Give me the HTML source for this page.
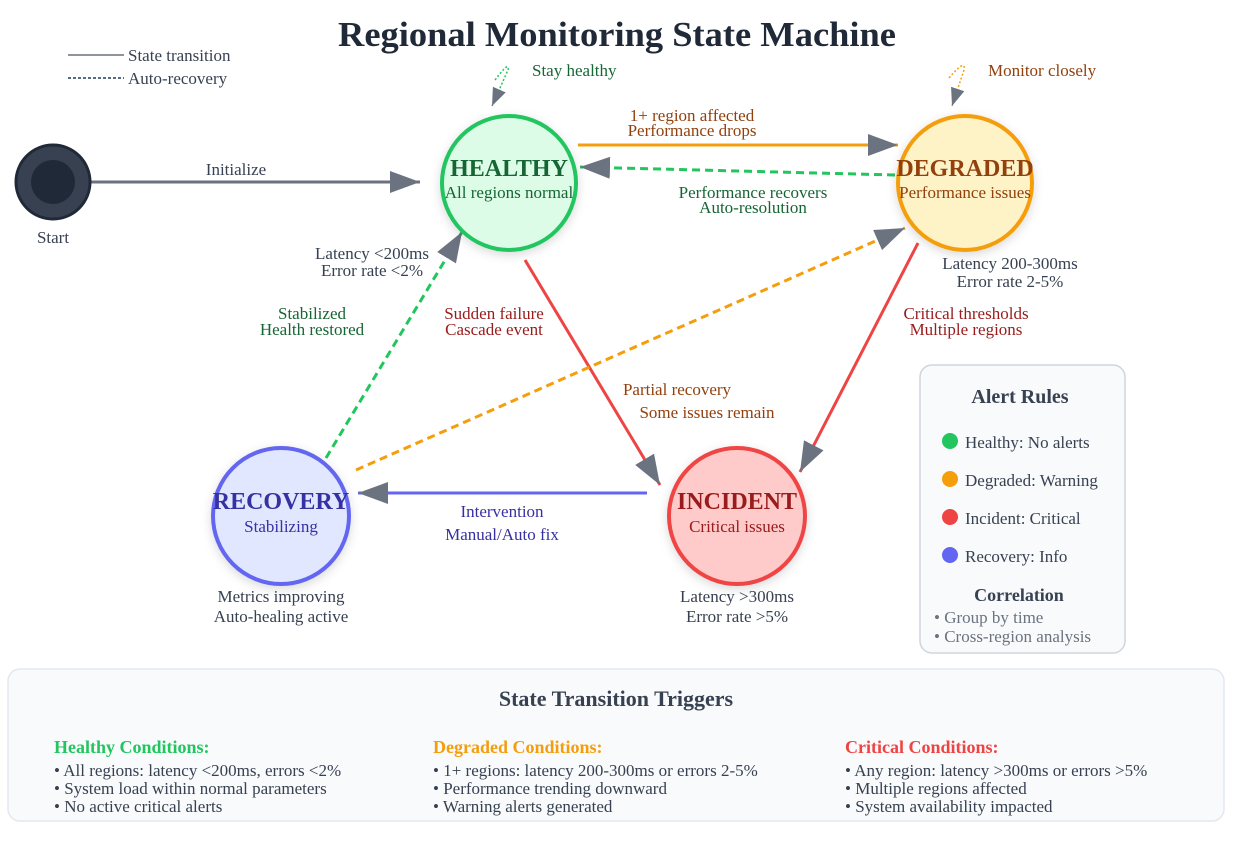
<!DOCTYPE html>
<html><head><meta charset="utf-8"><style>
body{margin:0;background:#fff;}
svg{display:block;font-family:"Liberation Serif","Times New Roman",serif;}
</style></head><body>
<svg width="1237" height="844" viewBox="0 0 1237 844" xmlns="http://www.w3.org/2000/svg">
<defs>
<marker id="a" markerUnits="userSpaceOnUse" markerWidth="32" markerHeight="24" refX="30" refY="11" orient="auto"><path d="M0,0 L30,11 L0,22 z" fill="#6b7280"/></marker>
<marker id="s" markerUnits="userSpaceOnUse" markerWidth="20" markerHeight="16" refX="18" refY="7" orient="auto"><path d="M0,0 L18,7 L0,14 z" fill="#6b7280"/></marker>
<filter id="sh" x="-30%" y="-30%" width="160%" height="160%"><feDropShadow dx="0" dy="3" stdDeviation="5" flood-color="#000" flood-opacity="0.15"/></filter>
</defs>
<rect width="1237" height="844" fill="#fff"/>
<text x="617" y="46" text-anchor="middle" font-size="35" font-weight="bold" fill="#1f2937" textLength="558" lengthAdjust="spacingAndGlyphs">Regional Monitoring State Machine</text>
<line x1="68" y1="55" x2="124" y2="55" stroke="#1f2937" stroke-width="1"/>
<text x="128" y="61" font-size="17" fill="#374151">State transition</text>
<line x1="68" y1="78" x2="124" y2="78" stroke="#1e3a5f" stroke-width="1.5" stroke-dasharray="3,2"/>
<text x="128" y="84" font-size="17" fill="#374151">Auto-recovery</text>

<g font-size="17">
<line x1="91" y1="182" x2="420" y2="182" stroke="#6b7280" stroke-width="3" marker-end="url(#a)"/>
<text x="236" y="175" text-anchor="middle" fill="#374151">Initialize</text>
<line x1="578" y1="145" x2="898" y2="145" stroke="#f59e0b" stroke-width="3" marker-end="url(#a)"/>
<text x="692" y="121" text-anchor="middle" fill="#92400e">1+ region affected</text>
<text x="692" y="136" text-anchor="middle" fill="#92400e">Performance drops</text>
<line x1="895" y1="175" x2="580" y2="167" stroke="#22c55e" stroke-width="3" stroke-dasharray="8,5" marker-end="url(#a)"/>
<text x="753" y="198" text-anchor="middle" fill="#166534">Performance recovers</text>
<text x="753" y="213" text-anchor="middle" fill="#166534">Auto-resolution</text>
<line x1="525" y1="260" x2="660" y2="485" stroke="#ef4444" stroke-width="3" marker-end="url(#a)"/>
<text x="494" y="319" text-anchor="middle" fill="#991b1b">Sudden failure</text>
<text x="494" y="335" text-anchor="middle" fill="#991b1b">Cascade event</text>
<line x1="918" y1="243" x2="800" y2="472" stroke="#ef4444" stroke-width="3" marker-end="url(#a)"/>
<text x="966" y="319" text-anchor="middle" fill="#991b1b">Critical thresholds</text>
<text x="966" y="335" text-anchor="middle" fill="#991b1b">Multiple regions</text>
<line x1="647" y1="493" x2="358" y2="493" stroke="#6366f1" stroke-width="3" marker-end="url(#a)"/>
<text x="502" y="517" text-anchor="middle" fill="#3730a3">Intervention</text>
<text x="502" y="540" text-anchor="middle" fill="#3730a3">Manual/Auto fix</text>
<line x1="326" y1="458" x2="462" y2="232" stroke="#22c55e" stroke-width="3" stroke-dasharray="8,5" marker-end="url(#a)"/>
<text x="312" y="319" text-anchor="middle" fill="#166534">Stabilized</text>
<text x="312" y="335" text-anchor="middle" fill="#166534">Health restored</text>
<text x="372" y="259" text-anchor="middle" fill="#374151">Latency &lt;200ms</text>
<text x="372" y="276" text-anchor="middle" fill="#374151">Error rate &lt;2%</text>
<line x1="356" y1="470" x2="905" y2="228" stroke="#f59e0b" stroke-width="3" stroke-dasharray="8,5" marker-end="url(#a)"/>
<text x="677" y="395" text-anchor="middle" fill="#92400e">Partial recovery</text>
<text x="707" y="418" text-anchor="middle" fill="#92400e">Some issues remain</text>
<path d="M495,80 Q510,60 508,70 L492,106" fill="none" stroke="#22c55e" stroke-width="1.5" stroke-dasharray="2,2" marker-end="url(#s)"/>
<text x="532" y="76" fill="#166534">Stay healthy</text>
<path d="M949,78 Q966,58 964,70 L952,106" fill="none" stroke="#f59e0b" stroke-width="1.5" stroke-dasharray="2,2" marker-end="url(#s)"/>
<text x="988" y="76" fill="#92400e">Monitor closely</text>

<circle cx="53" cy="182" r="37" fill="#374151" stroke="#1f2937" stroke-width="3"/>
<circle cx="53" cy="182" r="22" fill="#1f2937"/>
<text x="53" y="243" text-anchor="middle" fill="#374151">Start</text>

<circle cx="509" cy="183" r="67" fill="#dcfce7" stroke="#22c55e" stroke-width="4" filter="url(#sh)"/>
<text x="509" y="176" text-anchor="middle" font-size="24" font-weight="bold" fill="#166534">HEALTHY</text>
<text x="509" y="198" text-anchor="middle" fill="#166534">All regions normal</text>

<circle cx="965" cy="183" r="67" fill="#fef3c7" stroke="#f59e0b" stroke-width="4" filter="url(#sh)"/>
<text x="965" y="176" text-anchor="middle" font-size="24" font-weight="bold" fill="#92400e">DEGRADED</text>
<text x="965" y="198" text-anchor="middle" fill="#92400e">Performance issues</text>
<text x="1010" y="269" text-anchor="middle" fill="#374151">Latency 200-300ms</text>
<text x="1010" y="287" text-anchor="middle" fill="#374151">Error rate 2-5%</text>

<circle cx="281" cy="516" r="68" fill="#e0e7ff" stroke="#6366f1" stroke-width="4" filter="url(#sh)"/>
<text x="281" y="509" text-anchor="middle" font-size="24" font-weight="bold" fill="#3730a3">RECOVERY</text>
<text x="281" y="532" text-anchor="middle" fill="#3730a3">Stabilizing</text>
<text x="281" y="602" text-anchor="middle" fill="#374151">Metrics improving</text>
<text x="281" y="622" text-anchor="middle" fill="#374151">Auto-healing active</text>

<circle cx="737" cy="516" r="68" fill="#fecaca" stroke="#ef4444" stroke-width="4" filter="url(#sh)"/>
<text x="737" y="509" text-anchor="middle" font-size="24" font-weight="bold" fill="#991b1b">INCIDENT</text>
<text x="737" y="532" text-anchor="middle" fill="#991b1b">Critical issues</text>
<text x="737" y="602" text-anchor="middle" fill="#374151">Latency &gt;300ms</text>
<text x="737" y="622" text-anchor="middle" fill="#374151">Error rate &gt;5%</text>

<rect x="920" y="365" width="205" height="288" rx="12" fill="#f8fafc" stroke="#d1d5db" stroke-width="1.5"/>
<text x="1020" y="403" text-anchor="middle" font-size="20" font-weight="bold" fill="#374151">Alert Rules</text>
<circle cx="950" cy="441" r="8" fill="#22c55e"/><text x="965" y="448" fill="#374151">Healthy: No alerts</text>
<circle cx="950" cy="479" r="8" fill="#f59e0b"/><text x="965" y="486" fill="#374151">Degraded: Warning</text>
<circle cx="950" cy="517" r="8" fill="#ef4444"/><text x="965" y="524" fill="#374151">Incident: Critical</text>
<circle cx="950" cy="555" r="8" fill="#6366f1"/><text x="965" y="562" fill="#374151">Recovery: Info</text>
<text x="1019" y="601" text-anchor="middle" font-size="18" font-weight="bold" fill="#374151">Correlation</text>
<text x="934" y="623" fill="#6b7280">• Group by time</text>
<text x="934" y="642" fill="#6b7280">• Cross-region analysis</text>

<rect x="8" y="669" width="1216" height="152" rx="12" fill="#f8fafc" stroke="#e2e8f0" stroke-width="1.5"/>
<text x="616" y="706" text-anchor="middle" font-size="22" font-weight="bold" fill="#374151">State Transition Triggers</text>
<g fill="#374151">
<text x="54" y="753" font-size="18" font-weight="bold" fill="#22c55e">Healthy Conditions:</text>
<text x="54" y="776">• All regions: latency &lt;200ms, errors &lt;2%</text>
<text x="54" y="794">• System load within normal parameters</text>
<text x="54" y="812">• No active critical alerts</text>
<text x="433" y="753" font-size="18" font-weight="bold" fill="#f59e0b">Degraded Conditions:</text>
<text x="433" y="776">• 1+ regions: latency 200-300ms or errors 2-5%</text>
<text x="433" y="794">• Performance trending downward</text>
<text x="433" y="812">• Warning alerts generated</text>
<text x="845" y="753" font-size="18" font-weight="bold" fill="#ef4444">Critical Conditions:</text>
<text x="845" y="776">• Any region: latency &gt;300ms or errors &gt;5%</text>
<text x="845" y="794">• Multiple regions affected</text>
<text x="845" y="812">• System availability impacted</text>
</g>
</g>
</svg>
</body></html>
